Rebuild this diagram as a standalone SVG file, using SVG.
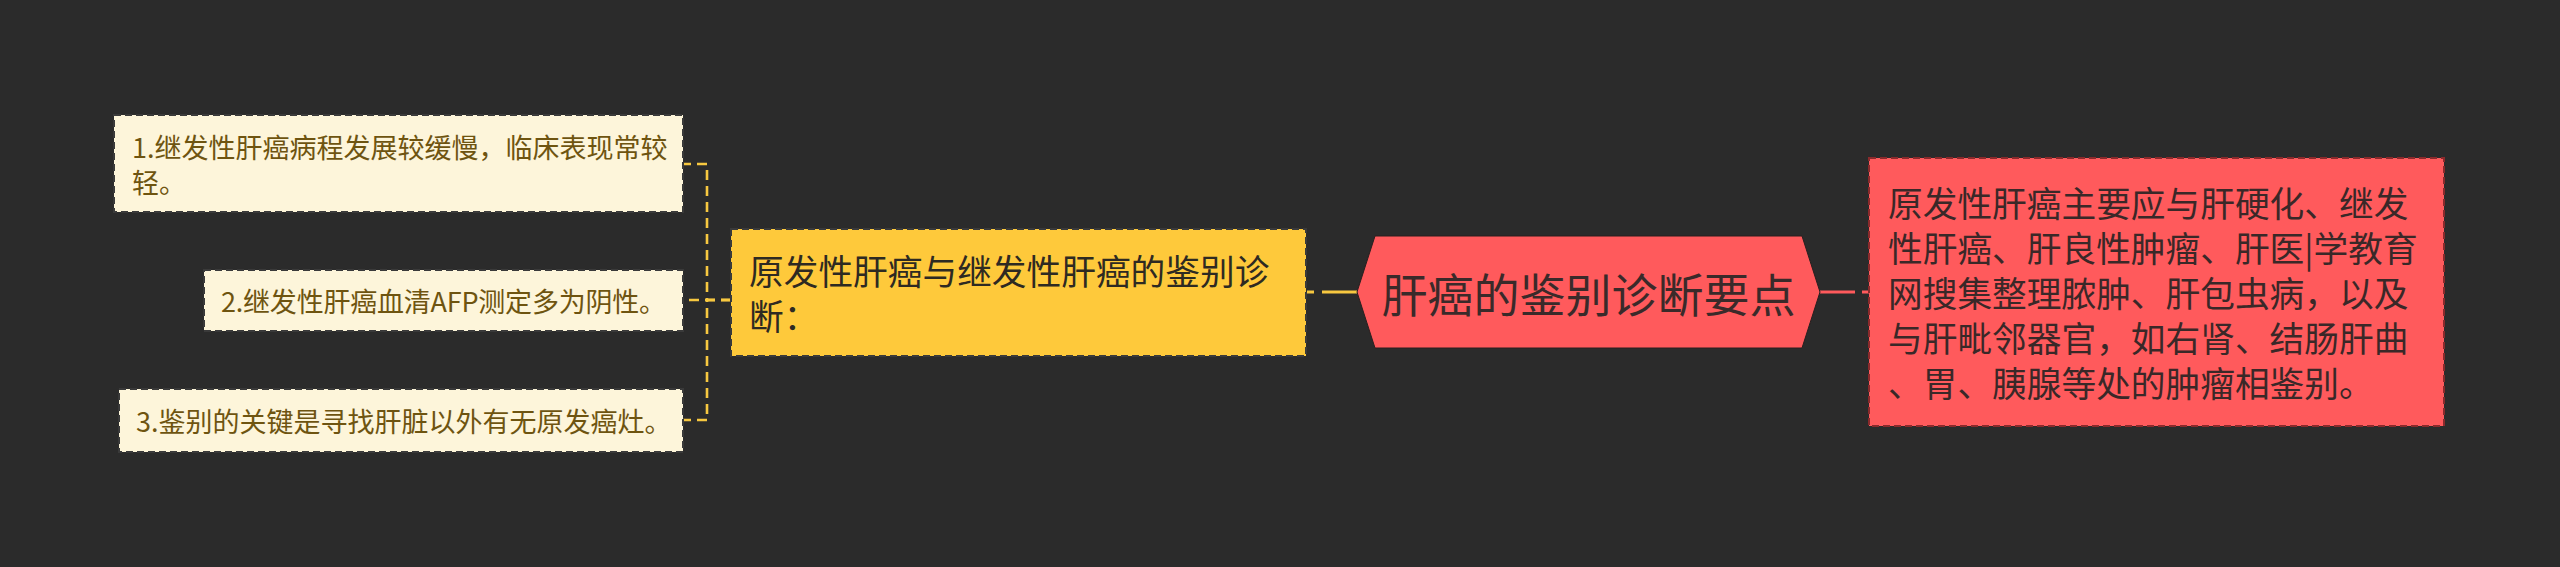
<svg xmlns="http://www.w3.org/2000/svg" width="2560" height="567" viewBox="0 0 2560 567">
<style>
text{font-family:"Noto Sans CJK SC","Noto Sans",sans-serif;dominant-baseline:central}
.leaf rect{fill:#fdf5da;stroke:#3a3a3a;stroke-width:2;stroke-dasharray:7 4}
.leaf text{font-size:27px;fill:#6e5410}
.sub rect{fill:#fec93b;stroke:#3a3a3a;stroke-width:2;stroke-dasharray:7 4}
.sub text{font-size:34.7px;fill:#2e2a22}
.root polygon{fill:#ff5a5c;stroke:#2a1f1f;stroke-width:1}
.root text{font-size:46px;fill:#3a2a2a}
.note rect{fill:#ff5a5c;stroke:#8a2a2c;stroke-width:2;stroke-dasharray:7 4}
.note text{font-size:34.7px;fill:#3a2828}
.cy{fill:none;stroke:#f7c840;stroke-width:2.6;stroke-dasharray:10 6}
.cys{fill:none;stroke:#f7c840;stroke-width:3}
.crs{fill:none;stroke:#ff5a5c;stroke-width:3}
</style>
<rect x="0" y="0" width="2560" height="567" fill="#2b2b2b"/>
<g id="connectors">
<path class="cy" d="M731 300 H707 V164 H683"/>
<path class="cy" d="M731 300 H683"/>
<path class="cy" d="M731 300 H707 V420 H683"/>
<path class="cys" d="M1322 292 H1357"/>
<path class="cys" d="M1307 292 H1314"/>
<path class="crs" d="M1820 292 H1855"/>
<path class="crs" d="M1862 292 H1869"/>
</g>
<g id="node1" class="leaf">
<rect x="114" y="115" width="569" height="97"/>
<text x="132" y="146">1.继发性肝癌病程发展较缓慢，临床表现常较</text>
<text x="132" y="181">轻。</text>
</g>
<g id="node2" class="leaf">
<rect x="204" y="270" width="479" height="61"/>
<text x="221" y="300.5" textLength="445" lengthAdjust="spacing">2.继发性肝癌血清AFP测定多为阴性。</text>
</g>
<g id="node3" class="leaf">
<rect x="119" y="389" width="564" height="63"/>
<text x="136" y="420.5">3.鉴别的关键是寻找肝脏以外有无原发癌灶。</text>
</g>
<g id="sub" class="sub">
<rect x="731" y="229" width="575" height="127"/>
<text x="749" y="270">原发性肝癌与继发性肝癌的鉴别诊</text>
<text x="749" y="315">断：</text>
</g>
<g id="root" class="root">
<polygon points="1357,292 1375,236 1802,236 1820,292 1802,348 1375,348"/>
<text x="1588.5" y="292" text-anchor="middle">肝癌的鉴别诊断要点</text>
</g>
<g id="note" class="note">
<rect x="1869" y="158" width="575" height="268"/>
<text x="1888" y="202">原发性肝癌主要应与肝硬化、继发</text>
<text x="1888" y="247">性肝癌、肝良性肿瘤、肝医|学教育</text>
<text x="1888" y="292">网搜集整理脓肿、肝包虫病，以及</text>
<text x="1888" y="337">与肝毗邻器官，如右肾、结肠肝曲</text>
<text x="1888" y="382">、胃、胰腺等处的肿瘤相鉴别。</text>
</g>
</svg>
